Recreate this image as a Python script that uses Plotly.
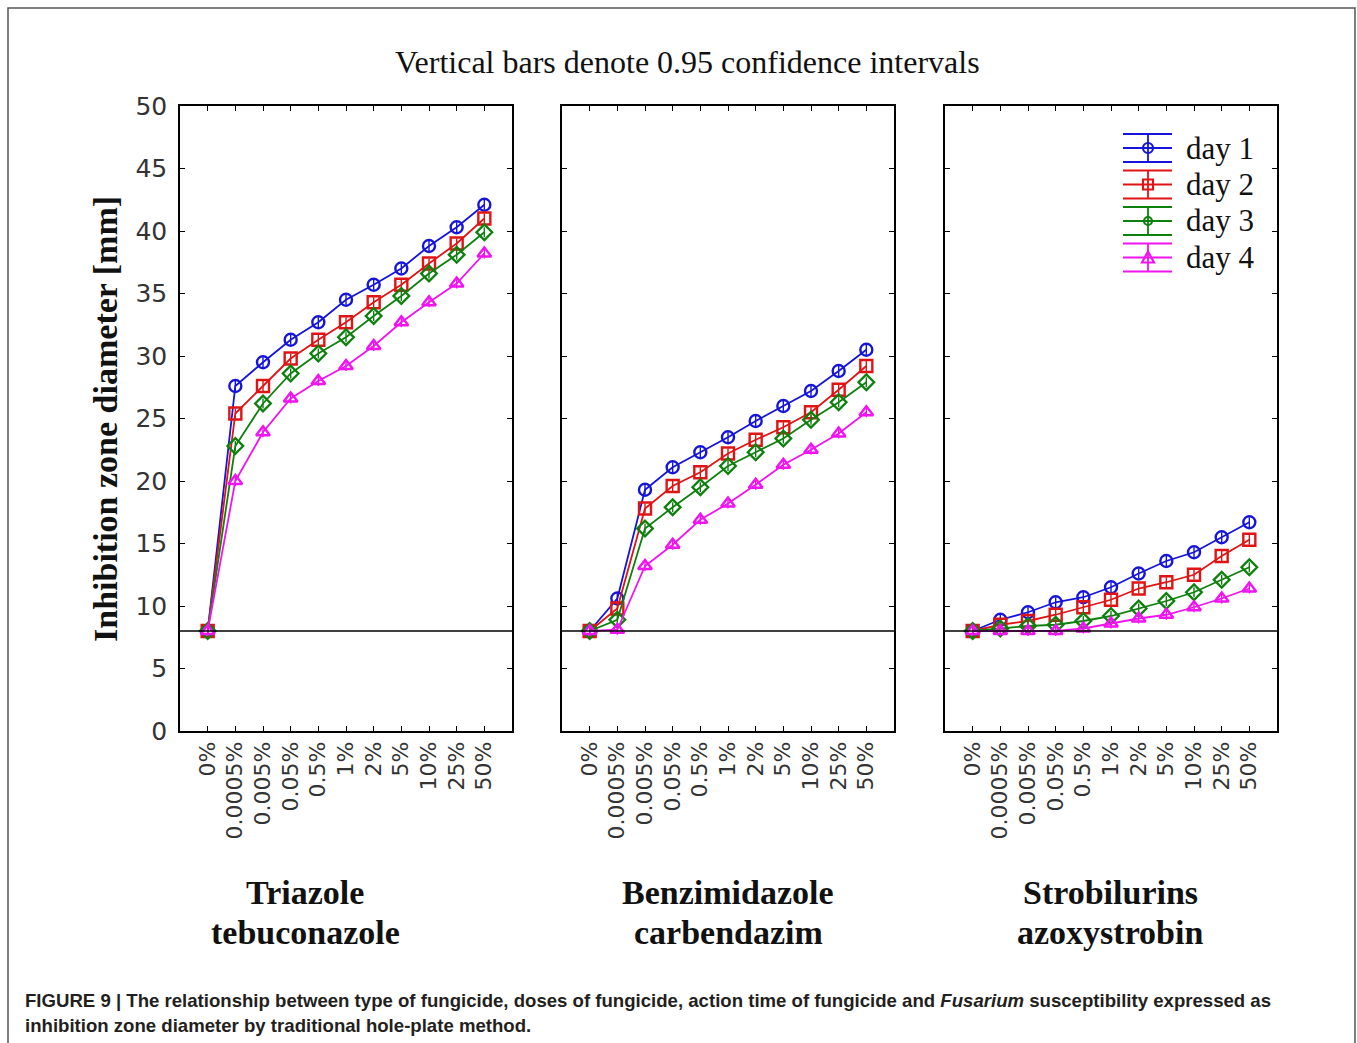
import plotly.graph_objects as go

W, H = 1357, 1043

# ---- data ---------------------------------------------------------------
doses = ["0%", "0.0005%", "0.005%", "0.05%", "0.5%", "1%", "2%", "5%", "10%", "25%", "50%"]
days = ["day 1", "day 2", "day 3", "day 4"]
groups = [["Triazole", "tebuconazole"],
          ["Benzimidazole", "carbendazim"],
          ["Strobilurins", "azoxystrobin"]]

triazole_day1 = [8.0, 27.6, 29.5, 31.3, 32.7, 34.5, 35.7, 37.0, 38.8, 40.3, 42.1]
triazole_day2 = [8.0, 25.4, 27.6, 29.8, 31.3, 32.7, 34.3, 35.7, 37.4, 39.0, 41.0]
triazole_day3 = [8.0, 22.8, 26.2, 28.6, 30.2, 31.5, 33.2, 34.8, 36.6, 38.1, 39.9]
triazole_day4 = [8.0, 20.0, 23.9, 26.6, 28.0, 29.2, 30.8, 32.7, 34.3, 35.8, 38.2]

benzimidazole_day1 = [8.0, 10.6, 19.3, 21.1, 22.3, 23.5, 24.8, 26.0, 27.2, 28.8, 30.5]
benzimidazole_day2 = [8.0, 9.8, 17.8, 19.6, 20.7, 22.2, 23.3, 24.3, 25.5, 27.3, 29.2]
benzimidazole_day3 = [8.0, 8.9, 16.2, 17.9, 19.5, 21.2, 22.3, 23.4, 24.9, 26.3, 27.9]
benzimidazole_day4 = [8.0, 8.1, 13.2, 14.9, 16.9, 18.2, 19.7, 21.3, 22.5, 23.8, 25.5]

strobilurin_day1 = [8.0, 8.9, 9.5, 10.3, 10.7, 11.5, 12.6, 13.6, 14.3, 15.5, 16.7]
strobilurin_day2 = [8.0, 8.5, 8.8, 9.3, 9.9, 10.5, 11.4, 11.9, 12.5, 14.0, 15.3]
strobilurin_day3 = [8.0, 8.2, 8.4, 8.5, 8.8, 9.2, 9.8, 10.4, 11.1, 12.1, 13.1]
strobilurin_day4 = [8.0, 8.0, 8.0, 8.0, 8.2, 8.6, 9.0, 9.3, 9.9, 10.6, 11.4]

# half-width of the 0.95 confidence interval (mm)
ci_half = 0.4
# diameter of the hole itself (control level)
baseline = 8

panels = [
    [triazole_day1, triazole_day2, triazole_day3, triazole_day4],
    [benzimidazole_day1, benzimidazole_day2, benzimidazole_day3, benzimidazole_day4],
    [strobilurin_day1, strobilurin_day2, strobilurin_day3, strobilurin_day4],
]

colors = ["#1414dc", "#e01414", "#0e800e", "#f014f0"]
symbols = ["circle-open", "square-open", "diamond-open", "triangle-up-open"]

# ---- helpers for pixel -> paper ----------------------------------------
def px(x):
    return x / W


def py(y):
    return 1 - y / H


panel_px = [(180, 512), (562, 894), (945, 1277)]
label_cx = [305, 728, 1110]
top_px, bot_px = 106, 731

fig = go.Figure()
serif = "Liberation Serif, Times New Roman, serif"
sans = "DejaVu Sans, Noto Sans, sans-serif"

for i, (series, (x0, x1)) in enumerate(zip(panels, panel_px)):
    n = "" if i == 0 else str(i + 1)
    for d, vals in enumerate(series):
        fig.add_trace(go.Scatter(
            x=doses, y=vals, mode="lines+markers",
            name=days[d], showlegend=False,
            line=dict(color=colors[d], width=1.8),
            marker=dict(symbol=symbols[d], size=12, color=colors[d],
                        line=dict(width=2.4, color=colors[d])),
            error_y=dict(type="constant", value=ci_half, color=colors[d],
                         thickness=1.4, width=0),
            xaxis="x" + n, yaxis="y" + n,
        ))
    xa = dict(
        domain=[px(x0), px(x1)], anchor="y" + n, automargin=False,
        type="category", categoryorder="array", categoryarray=doses,
        tickmode="array", tickvals=doses, ticktext=doses,
        range=[-1, 11], showline=True, linecolor="black", linewidth=1.6,
        mirror="ticks", ticks="inside", ticklen=5, tickcolor="black",
        tickangle=-90, showgrid=False, zeroline=False,
        tickfont=dict(family=sans, size=22, color="#333"),
    )
    ya = dict(
        domain=[py(bot_px), py(top_px)], anchor="x" + n, automargin=False,
        range=[0, 50], dtick=5, showline=True, linecolor="black",
        linewidth=1.6, mirror="ticks", ticks="inside", ticklen=5,
        tickcolor="black", showgrid=False, zeroline=False,
        showticklabels=(i == 0), ticklabelstandoff=6,
        tickfont=dict(family=sans, size=25, color="#333"),
    )
    fig.layout["xaxis" + n] = xa
    fig.layout["yaxis" + n] = ya

    # control level line
    fig.add_shape(type="line", xref="x" + n + " domain", yref="y" + n,
                  x0=0, x1=1, y0=baseline, y1=baseline,
                  line=dict(color="black", width=1.6))

    # group labels under each panel
    cx = px(label_cx[i])
    for k, line_text in enumerate(groups[i]):
        fig.add_annotation(text="<b>" + line_text + "</b>", xref="paper", yref="paper",
                           x=cx, y=py(892 + 40 * k), xanchor="center", yanchor="middle",
                           showarrow=False, font=dict(family=serif, size=34, color="#111"))

# ---- legend drawn inside the third panel --------------------------------
leg_x0, leg_x1, leg_xc = 1123, 1172, 1148
row_y = [148, 184.5, 221, 257.5]
half = 14
for d, yc in enumerate(row_y):
    c = colors[d]
    for yy in (yc - half, yc, yc + half):
        fig.add_shape(type="line", xref="paper", yref="paper",
                      x0=px(leg_x0), x1=px(leg_x1), y0=py(yy), y1=py(yy),
                      line=dict(color=c, width=1.8))
    fig.add_shape(type="line", xref="paper", yref="paper",
                  x0=px(leg_xc), x1=px(leg_xc), y0=py(yc - half), y1=py(yc + half),
                  line=dict(color=c, width=1.8))
    r = 5
    if d == 0:
        fig.add_shape(type="circle", xref="paper", yref="paper",
                      x0=px(leg_xc - r), x1=px(leg_xc + r), y0=py(yc - r), y1=py(yc + r),
                      line=dict(color=c, width=2.2))
    elif d == 1:
        fig.add_shape(type="rect", xref="paper", yref="paper",
                      x0=px(leg_xc - r), x1=px(leg_xc + r), y0=py(yc - r), y1=py(yc + r),
                      line=dict(color=c, width=2.2))
    elif d == 2:
        fig.add_shape(type="circle", xref="paper", yref="paper",
                      x0=px(leg_xc - 4), x1=px(leg_xc + 4), y0=py(yc - 4), y1=py(yc + 4),
                      line=dict(color=c, width=2.2))
    else:
        path = "M {} {} L {} {} L {} {} Z".format(
            px(leg_xc), py(yc - 6), px(leg_xc - 6), py(yc + 5), px(leg_xc + 6), py(yc + 5))
        fig.add_shape(type="path", xref="paper", yref="paper", path=path,
                      line=dict(color=c, width=2.2))
    fig.add_annotation(text=days[d], xref="paper", yref="paper",
                       x=px(1184), y=py(yc), xanchor="left", yanchor="middle",
                       showarrow=False, font=dict(family=serif, size=31, color="#111"))

# ---- titles --------------------------------------------------------------
fig.add_annotation(text="Vertical bars denote 0.95 confidence intervals",
                   xref="paper", yref="paper", x=px(687), y=py(62),
                   xanchor="center", yanchor="middle", showarrow=False,
                   font=dict(family=serif, size=32, color="#111"))
fig.add_annotation(text="<b>Inhibition zone diameter [mm]</b>",
                   xref="paper", yref="paper", x=px(105), y=py(419),
                   xanchor="center", yanchor="middle", textangle=-90, showarrow=False,
                   font=dict(family=serif, size=34, color="#111"))

caption1 = ("<b>FIGURE 9 | The relationship between type of fungicide, doses of fungicide, "
            "action time of fungicide and <i>Fusarium</i> susceptibility expressed as</b>")
caption2 = "<b>inhibition zone diameter by traditional hole-plate method.</b>"
for k, t in enumerate([caption1, caption2]):
    fig.add_annotation(text=t, xref="paper", yref="paper", x=px(23), y=py(1000 + 25 * k),
                       xanchor="left", yanchor="middle", showarrow=False,
                       font=dict(family="Liberation Sans, Arial, sans-serif", size=18.6,
                                 color="#231f20"))

# outer frame
fig.add_shape(type="rect", xref="paper", yref="paper",
              x0=px(8), x1=px(1355), y0=py(1060), y1=py(8),
              line=dict(color="#555", width=1.5))

fig.update_layout(
    width=W, height=H, margin=dict(l=0, r=0, t=0, b=0, autoexpand=False),
    paper_bgcolor="white", plot_bgcolor="white", showlegend=False,
)

fig.write_html("out.html")
